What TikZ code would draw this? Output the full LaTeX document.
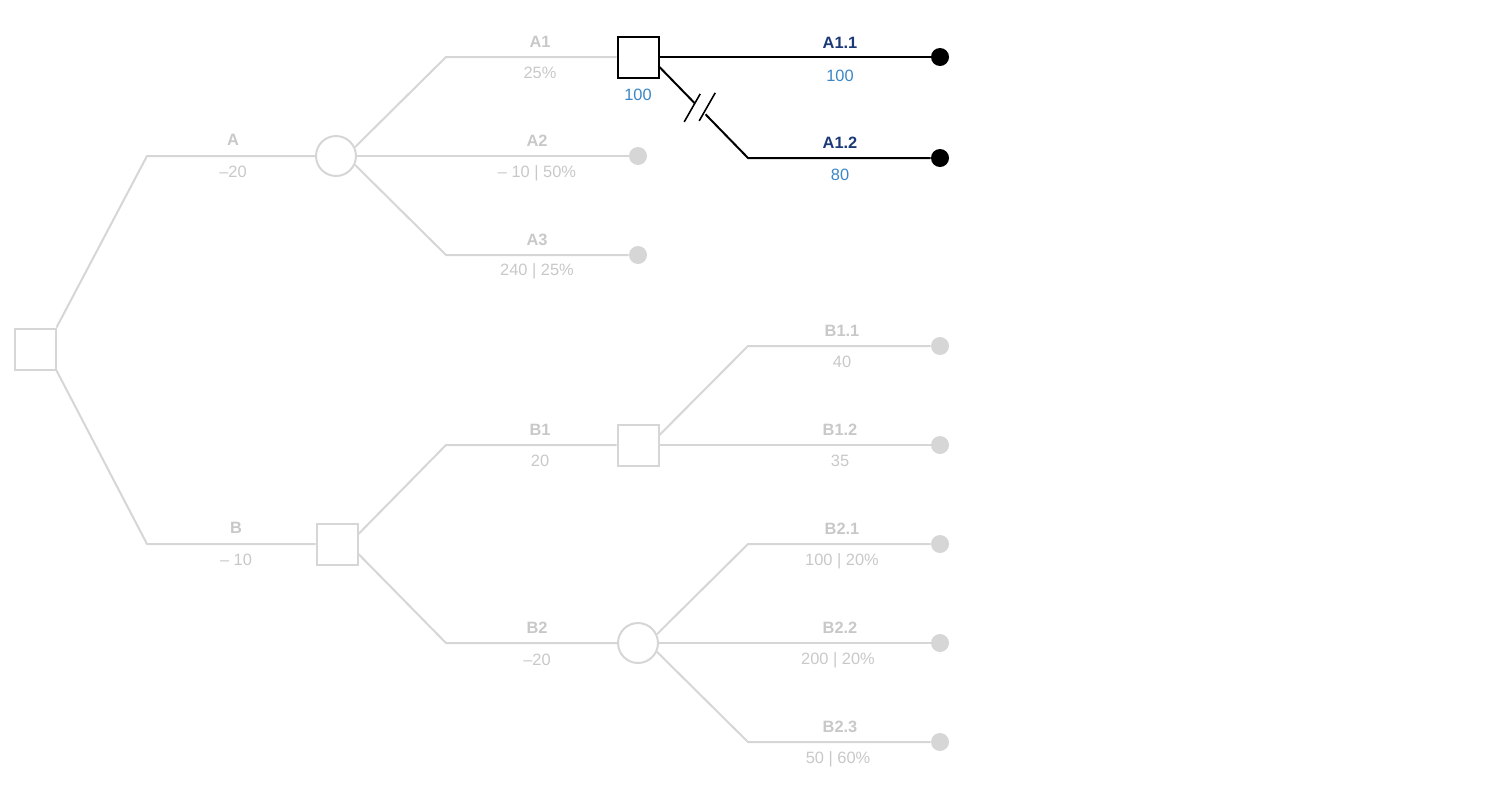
\documentclass[tikz,border=0pt]{standalone}
\usepackage{fontspec}
\setmainfont{Liberation Sans}
\usepackage{tikz}

\definecolor{faded}{RGB}{214,214,214}
\definecolor{fadedtext}{RGB}{200,200,200}
\definecolor{valblue}{RGB}{58,134,198}
\definecolor{navy}{RGB}{28,58,120}

\tikzset{
	branch/.style={draw=faded,line width=1.5pt},
	sel/.style={draw=black,line width=1.5pt},
	decision/.style={rectangle,draw=#1,fill=white,minimum size=30.75pt,inner sep=0pt,line width=1.5pt},
	decision/.default=faded,
	chance/.style={circle,draw=#1,fill=white,minimum size=30pt,inner sep=0pt,line width=1.5pt},
	chance/.default=faded,
	leaf/.style={circle,fill=#1,minimum size=13.5pt,inner sep=0pt},
	leaf/.default=faded,
	optlabel/.style={font=\bfseries\fontsize{12.3}{14}\selectfont,text=#1},
	optlabel/.default=fadedtext,
	payoff/.style={font=\fontsize{12.3}{14}\selectfont,text=#1},
	payoff/.default=fadedtext
}

\begin{document}
\begin{tikzpicture}[x=0.75pt,y=-0.75pt]
	\useasboundingbox (0,0) rectangle (1500,800);

	% decision and chance nodes
	\node[decision] (root) at (35,349) {};
	\node[chance] (cA) at (336,156) {};
	\node[decision] (dB) at (337,544) {};
	\node[decision=black] (dA1) at (638,57) {};
	\node[decision] (dB1) at (638,445) {};
	\node[chance] (cB2) at (638,643) {};

	% end points
	\node[leaf] (tA2) at (638,156) {};
	\node[leaf] (tA3) at (638,255) {};
	\node[leaf=black] (tA11) at (940,57) {};
	\node[leaf=black] (tA12) at (940,158) {};
	\node[leaf] (tB11) at (940,346) {};
	\node[leaf] (tB12) at (940,445) {};
	\node[leaf] (tB21) at (940,544) {};
	\node[leaf] (tB22) at (940,643) {};
	\node[leaf] (tB23) at (940,742) {};

	% branches
	\draw[branch] (root.north east) -- (147,156) -- (cA);
	\draw[branch] (root.south east) -- (147,544) -- (dB);
	\draw[branch] (cA.25) -- (446,57) -- (dA1);
	\draw[branch] (cA) -- (tA2);
	\draw[branch] (cA.-25) -- (446,255) -- (tA3);
	\draw[branch] (dB.25) -- (446,445) -- (dB1);
	\draw[branch] (dB.-25) -- (446,643) -- (cB2);
	\draw[branch] (dB1.25) -- (748,346) -- (tB11);
	\draw[branch] (dB1) -- (tB12);
	\draw[branch] (cB2.25) -- (748,544) -- (tB21);
	\draw[branch] (cB2) -- (tB22);
	\draw[branch] (cB2.-25) -- (748,742) -- (tB23);

	% chosen branch A1
	\draw[sel] (dA1) -- (tA11);
	\coordinate (e12) at (748,158);
	\path (dA1.-25) -- coordinate[pos=0.40] (cut1) coordinate[pos=0.46] (brk) coordinate[pos=0.52] (cut2) (e12);
	\draw[sel] (dA1.-25) -- (cut1);
	\draw[sel] (cut2) -- (e12) -- (tA12);
	\draw[sel,line width=1.2pt] ([shift={(-8,-1)}]brk) ++(-8,14) -- ++(16,-28);
	\draw[sel,line width=1.2pt] ([shift={(7,-2)}]brk) ++(-8,14) -- ++(16,-28);

	% labels
	\node[optlabel] (lA) at (233,140) {A};
	\node[payoff] (vA) at (233,172) {–20};
	\node[optlabel] (lB) at (236,528) {B};
	\node[payoff] (vB) at (236,560) {– 10};

	\node[optlabel] (lA1) at (540,42) {A1};
	\node[payoff] (vA1) at (540,73) {25\%};
	\node[optlabel] (lA2) at (537,141) {A2};
	\node[payoff] (vA2) at (537,173) {– 10 | 50\%};
	\node[optlabel] (lA3) at (537,240) {A3};
	\node[payoff] (vA3) at (537,271) {240 | 25\%};
	\node[payoff=valblue] (sA1) at (638,95) {100};

	\node[optlabel=navy] (lA11) at (840,43) {A1.1};
	\node[payoff=valblue] (vA11) at (840,76) {100};
	\node[optlabel=navy] (lA12) at (840,143) {A1.2};
	\node[payoff=valblue] (vA12) at (840,175) {80};

	% case B
	\node[optlabel] (lB1) at (540,430) {B1};
	\node[payoff] (vB1) at (540,461) {20};
	\node[optlabel] (lB2) at (537,628) {B2};
	\node[payoff] (vB2) at (537,660) {–20};

	\node[optlabel] (lB11) at (842,331) {B1.1};
	\node[payoff] (vB11) at (842,362) {40};
	\node[optlabel] (lB12) at (840,430) {B1.2};
	\node[payoff] (vB12) at (840,461) {35};
	\node[optlabel] (lB21) at (842,529) {B2.1};
	\node[payoff] (vB21) at (842,561) {100 | 20\%};
	\node[optlabel] (lB22) at (840,628) {B2.2};
	\node[payoff] (vB22) at (838,660) {200 | 20\%};
	\node[optlabel] (lB23) at (840,727) {B2.3};
	\node[payoff] (vB23) at (838,759) {50 | 60\%};

\end{tikzpicture}
\end{document}
